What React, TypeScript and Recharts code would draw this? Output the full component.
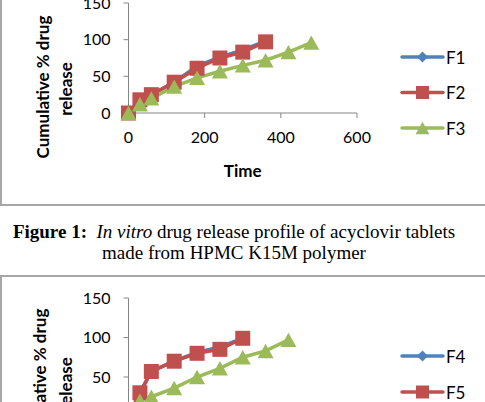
import React from 'react';
import { LineChart, Line, XAxis, YAxis, Legend } from 'recharts';

// ---- Chart 1 (HPMC K15M) ----
const timesF1F2 = [0, 30, 60, 120, 180, 240, 300, 360];
const timesF3 = [0, 30, 60, 120, 180, 240, 300, 360, 420, 480];
const valuesF1 = [0, 18, 25, 42, 64, 76, 86, 98];
const valuesF2 = [0, 18, 25, 42, 61, 75, 83, 97];
const valuesF3 = [0, 12, 20, 36, 48, 57, 65, 72, 83, 96];

// ---- Chart 2 ----
const timesF4F5 = [0, 30, 60, 120, 180, 240, 300];
const timesF6 = [0, 30, 60, 120, 180, 240, 300, 360, 420];
const valuesF4 = [0, 30, 57, 70, 81, 88, 99];
const valuesF5 = [0, 30, 57, 70, 80, 85, 99];
const valuesF6 = [0, 20, 25, 36, 50, 61, 75, 83, 97];

const xTicks = [0, 200, 400, 600];
const yTicks = [0, 50, 100, 150];

const BLUE = '#4F81BD';
const RED = '#C0504D';
const GREEN = '#9BBB59';
const AXIS = '#868686';
const FONT = 'Lato, "Open Sans", sans-serif';

const zip = (t: number[], v: number[]) => t.map((x, i) => ({ t: x, v: v[i] }));

type Shape = 'diamond' | 'square' | 'triangle';

const drawMarker = (shape: Shape, color: string, cx: number, cy: number, s: number, key?: any) => {
  if (shape === 'square') {
    return <rect key={key} x={cx - s / 2} y={cy - s / 2} width={s} height={s} fill={color} />;
  }
  if (shape === 'diamond') {
    const h = s / 2;
    return <polygon key={key} points={`${cx},${cy - h} ${cx + h},${cy} ${cx},${cy + h} ${cx - h},${cy}`} fill={color} />;
  }
  const h = s * 0.45;
  return (
    <polygon
      key={key}
      points={`${cx},${cy - h} ${cx + s / 2},${cy + h} ${cx - s / 2},${cy + h}`}
      fill={color}
    />
  );
};

const dotFn = (shape: Shape, color: string, size: number) => (props: any) => {
  const { cx, cy, index } = props;
  if (cx == null || cy == null) return <g key={`e${index}`} />;
  return drawMarker(shape, color, cx, cy, size, `d${index}`);
};

const shapeOf: Record<string, Shape> = {
  F1: 'diamond', F2: 'square', F3: 'triangle',
  F4: 'diamond', F5: 'square', F6: 'triangle',
};
const legendSize: Record<Shape, number> = { diamond: 11, square: 13, triangle: 14 };

const makeLegend = (gap: number) => (props: any) => {
  const payload = props.payload || [];
  return (
    <svg width={85} height={gap * 3 + 20} style={{ overflow: 'visible' }}>
      {payload.map((p: any, i: number) => {
        const y = 10 + i * gap;
        const shape = shapeOf[p.value];
        return (
          <g key={p.value}>
            <line x1={2} x2={43} y1={y} y2={y} stroke={p.color} strokeWidth={3.5} strokeLinecap="round" />
            {drawMarker(shape, p.color, 22.5, y, legendSize[shape])}
            <text x={46} y={y} dominantBaseline="central" fontFamily={FONT} fontSize={17} fill="#000">
              {p.value}
            </text>
          </g>
        );
      })}
    </svg>
  );
};

const makeYLabel = (x1: number, y1: number, x2: number, y2: number) => () => (
  <g>
    <text
      x={x1} y={y1} transform={`rotate(-90 ${x1} ${y1})`} textAnchor="middle" dominantBaseline="central"
      fontFamily={FONT} fontWeight="bold" fontSize={17} fill="#000"
    >
      Cumulative % drug
    </text>
    <text
      x={x2} y={y2} transform={`rotate(-90 ${x2} ${y2})`} textAnchor="middle" dominantBaseline="central"
      fontFamily={FONT} fontWeight="bold" fontSize={17} fill="#000"
    >
      release
    </text>
  </g>
);

const tickStyle = { fontFamily: FONT, fontSize: 16, fill: '#000' };

interface ChartProps {
  top: number;
  height: number;
  marginTop: number;
  marginBottom: number;
  series: { name: string; data: { t: number; v: number }[]; color: string; shape: Shape }[];
  legendTop: number;
  legendGap: number;
  label: [number, number, number, number];
}

const Chart = ({ top, height, marginTop, marginBottom, series, legendTop, legendGap, label }: ChartProps) => (
  <div style={{ position: 'absolute', left: 0, top }}>
    <LineChart
      width={485}
      height={height}
      margin={{ top: marginTop, right: 128, bottom: marginBottom, left: 0 }}
    >
      <XAxis
        dataKey="t"
        type="number"
        domain={[0, 600]}
        ticks={xTicks}
        height={30}
        tick={tickStyle}
        tickSize={5}
        tickMargin={14}
        stroke={AXIS}
        allowDuplicatedCategory={false}
        label={{
          value: 'Time',
          position: 'insideBottom',
          content: (p: any) => {
            const vb = p.viewBox || {};
            return (
              <text
                x={vb.x + vb.width / 2}
                y={vb.y + 57}
                textAnchor="middle"
                dominantBaseline="central"
                fontFamily={FONT}
                fontWeight="bold"
                fontSize={17}
                fill="#000"
              >
                Time
              </text>
            );
          },
        }}
      />
      <YAxis
        type="number"
        domain={[0, 150]}
        ticks={yTicks}
        width={128.5}
        tick={tickStyle}
        tickSize={5}
        tickMargin={13}
        stroke={AXIS}
        label={{ content: makeYLabel(...label) }}
      />
      <Legend
        layout="vertical"
        align="center"
        verticalAlign="middle"
        wrapperStyle={{ position: 'absolute', left: 400, top: legendTop, width: 85 }}
        content={makeLegend(legendGap)}
      />
      {series.map((s) => (
        <Line
          key={s.name}
          name={s.name}
          data={s.data}
          dataKey="v"
          type="linear"
          stroke={s.color}
          strokeWidth={3.5}
          dot={dotFn(s.shape, s.color, s.shape === 'diamond' ? 11 : s.shape === 'square' ? 15 : 16)}
          activeDot={false}
          isAnimationActive={false}
        />
      ))}
    </LineChart>
  </div>
);

export default function App() {
  const series1 = [
    { name: 'F1', data: zip(timesF1F2, valuesF1), color: BLUE, shape: 'diamond' as Shape },
    { name: 'F2', data: zip(timesF1F2, valuesF2), color: RED, shape: 'square' as Shape },
    { name: 'F3', data: zip(timesF3, valuesF3), color: GREEN, shape: 'triangle' as Shape },
  ];
  const series2 = [
    { name: 'F4', data: zip(timesF4F5, valuesF4), color: BLUE, shape: 'diamond' as Shape },
    { name: 'F5', data: zip(timesF4F5, valuesF5), color: RED, shape: 'square' as Shape },
    { name: 'F6', data: zip(timesF6, valuesF6), color: GREEN, shape: 'triangle' as Shape },
  ];
  return (
    <div
      style={{
        position: 'fixed', left: 0, top: 0, width: 485, height: 402,
        overflow: 'hidden', background: '#fff',
      }}
    >
      {/* frame 1 */}
      <div
        style={{
          position: 'absolute', left: 0, top: -20, width: 600, height: 224,
          borderLeft: '2px solid #a6a6a6', borderBottom: '2px solid #a6a6a6',
        }}
      />
      {/* frame 2 */}
      <div
        style={{
          position: 'absolute', left: 0, top: 275, width: 600, height: 300,
          borderLeft: '2px solid #a6a6a6', borderTop: '2px solid #a6a6a6',
        }}
      />
      <Chart
        top={-30}
        height={230}
        marginTop={33}
        marginBottom={57}
        series={series1}
        legendTop={77}
        legendGap={35.5}
        label={[42, 117, 65, 119]}
      />
      <div
        style={{
          position: 'absolute', left: 0, top: 221, width: 468, textAlign: 'center',
          fontFamily: '"Liberation Serif", "Times New Roman", serif', fontSize: 19,
          lineHeight: '21px', color: '#000', whiteSpace: 'nowrap',
        }}
      >
        <b>Figure 1:</b>&nbsp; <i>In vitro</i> drug release profile of acyclovir tablets
        <br />
        made from HPMC K15M polymer
      </div>
      <Chart
        top={250}
        height={250}
        marginTop={48}
        marginBottom={53.5}
        series={series2}
        legendTop={96}
        legendGap={36}
        label={[39, 130, 65, 134]}
      />
    </div>
  );
}
